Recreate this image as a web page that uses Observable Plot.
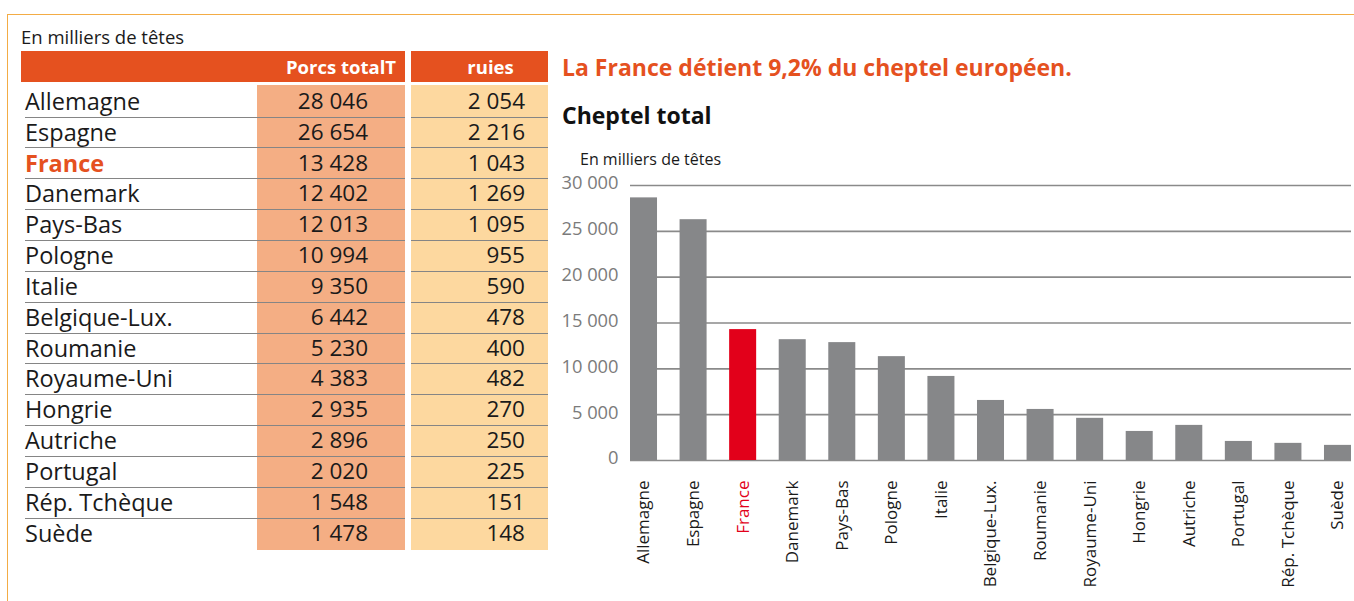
<!DOCTYPE html>
<html>
<head>
<meta charset="utf-8">
<script src="https://cdn.jsdelivr.net/npm/d3@7"></script>
<script src="https://cdn.jsdelivr.net/npm/@observablehq/plot@0.6"></script>
<style>
  html, body { margin: 0; padding: 0; background: #fff; }
  body { width: 1354px; height: 601px; position: relative; overflow: hidden; font-family: "Open Sans", sans-serif; color: #1a1a1a; }
  .abs { position: absolute; }
  #frame { left: 7px; top: 14px; width: 1360px; height: 600px; border-top: 1.5px solid #F3AC45; border-left: 1.5px solid #F3AC45; }
  .note { font-size: 18.5px; white-space: nowrap; }
  .hdr { background: #E5511F; color: #fff; font-weight: 700; font-size: 18.5px; height: 31px; line-height: 31px; box-sizing: border-box; white-space: nowrap; }
  .bg1 { background: #F4AE84; }
  .bg2 { background: #FDD89F; }
  .cell { box-sizing: border-box; border-bottom: 1.5px solid #858585; font-size: 22.5px; white-space: nowrap; }
  .name { font-size: 23.5px; }
  .title { font-size: 23px; font-weight: 700; white-space: nowrap; }
</style>
</head>
<body>
<div id="frame" class="abs"></div>
<div id="root"></div>
<script>
// ---- data ----
const countries = ["Allemagne","Espagne","France","Danemark","Pays-Bas","Pologne","Italie","Belgique-Lux.","Roumanie","Royaume-Uni","Hongrie","Autriche","Portugal","Rép. Tchèque","Suède"];
const porcsTotal = [28046,26654,13428,12402,12013,10994,9350,6442,5230,4383,2935,2896,2020,1548,1478];
const truies = [2054,2216,1043,1269,1095,955,590,478,400,482,270,250,225,151,148];
const cheptelTotal = [28650,26270,14280,13180,12860,11330,9170,6550,5570,4600,3170,3830,2080,1870,1650];
const yTicks = [0,5000,10000,15000,20000,25000,30000];
const tableNote = "En milliers de têtes";
const colHeaders = ["Porcs totalT", "ruies"];
const headline = "La France détient 9,2% du cheptel européen.";
const chartTitle = "Cheptel total";
const chartUnit = "En milliers de têtes";
const highlight = "France";

const fmt = n => String(n).replace(/\B(?=(\d{3})+(?!\d))/g, " ");
const root = document.getElementById("root");
function el(cls, style, text) {
  const d = document.createElement("div");
  d.className = "abs " + cls;
  Object.assign(d.style, style);
  if (text != null) d.textContent = text;
  root.appendChild(d);
  return d;
}

// ---- table ----
el("note", {left: "21px", top: "24px"}, tableNote);
el("hdr", {left: "21px", top: "51px", width: "384px", textAlign: "right", paddingRight: "9px"}, colHeaders[0]);
el("hdr", {left: "411px", top: "51px", width: "137px", textAlign: "center", paddingLeft: "22px"}, colHeaders[1]);
const rowTop = 86.8, rowH = 30.85;
el("bg1", {left: "257px", top: "85px", width: "148px", height: (rowTop + rowH * countries.length - 85) + "px"});
el("bg2", {left: "411px", top: "85px", width: "137px", height: (rowTop + rowH * countries.length - 85) + "px"});
countries.forEach((c, i) => {
  const top = rowTop + i * rowH;
  const last = i === countries.length - 1;
  const base = {top: top + "px", height: rowH + "px", lineHeight: (rowH - 2) + "px"};
  if (last) base.borderBottom = "none";
  const n = el("cell name", {...base, left: "25px", width: "232px", paddingLeft: "0px"}, c);
  if (c === highlight) { n.style.color = "#E5511F"; n.style.fontWeight = "700"; }
  el("cell", {...base, left: "257px", width: "148px", textAlign: "right", paddingRight: "37px"}, fmt(porcsTotal[i]));
  el("cell", {...base, left: "411px", width: "137px", textAlign: "right", paddingRight: "23px"}, fmt(truies[i]));
});

// ---- right side texts ----
el("title", {left: "562px", top: "51px", color: "#E5511F"}, headline);
el("title", {left: "562px", top: "99px", color: "#111"}, chartTitle);
el("note", {left: "580px", top: "148px", fontSize: "16px"}, chartUnit);

// ---- chart ----
const data = countries.map((c, i) => ({country: c, value: cheptelTotal[i]}));
const chart = Plot.plot({
  width: 804,
  height: 431,
  marginLeft: 80,
  marginRight: 3,
  marginTop: 15,
  marginBottom: 141,
  style: {fontFamily: "Open Sans", background: "transparent", overflow: "visible"},
  x: {domain: countries, paddingInner: 0.455, paddingOuter: 0, align: 0.5, round: false, label: null},
  y: {domain: [0, 30000], label: null},
  color: {type: "identity"},
  marks: [
    Plot.ruleY(yTicks, {stroke: "#8a8a8a", strokeWidth: 1.6}),
    Plot.barY(data, {x: "country", y: "value", fill: d => d.country === highlight ? "#E2001A" : "#868789"}),
    Plot.axisY(yTicks, {tickSize: 0, tickPadding: 12, tickFormat: fmt, fontSize: 18.3, fill: "#7b7b7b", dy: -2, label: null}),
    Plot.axisX(countries.filter(c => c !== highlight), {tickSize: 0, tickPadding: 20, tickRotate: -90, fontSize: 17, fill: "#1a1a1a", label: null}),
    Plot.axisX([highlight], {tickSize: 0, tickPadding: 20, tickRotate: -90, fontSize: 17, fill: "#E2001A", label: null})
  ]
});
chart.style.position = "absolute";
chart.style.left = "550px";
chart.style.top = "170px";
root.appendChild(chart);
</script>
</body>
</html>
